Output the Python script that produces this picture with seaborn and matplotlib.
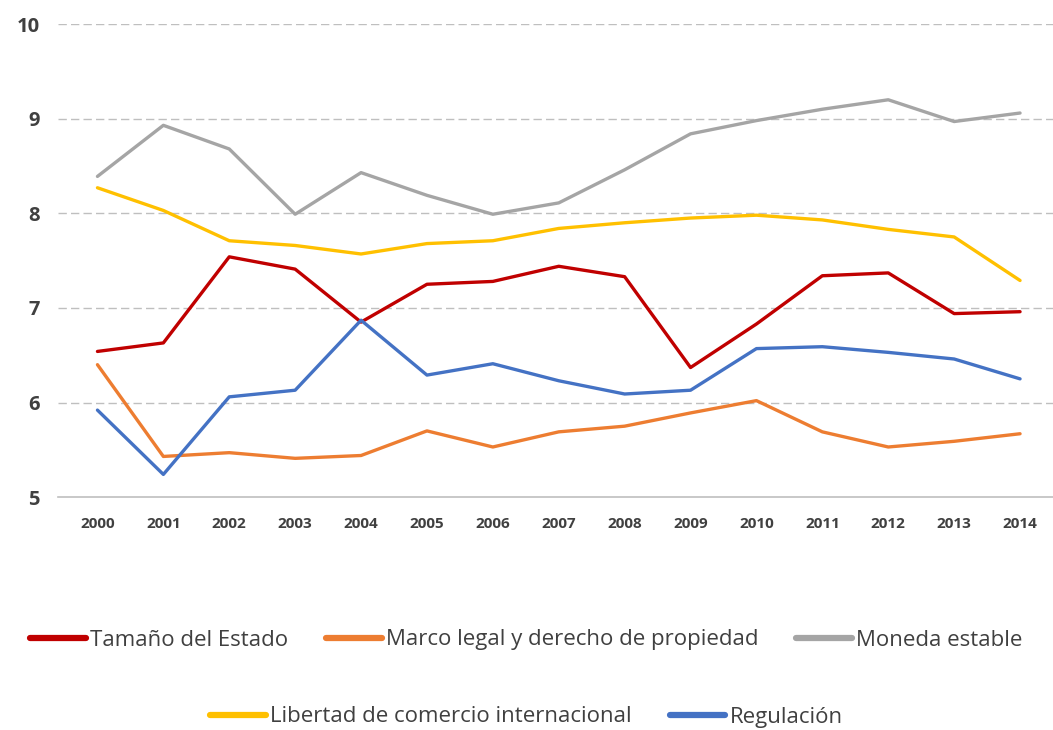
import matplotlib
matplotlib.use("Agg")
import matplotlib.pyplot as plt
import seaborn as sns
import pandas as pd
from matplotlib.lines import Line2D

years = list(range(2000, 2015))
series_names = ["Tamaño del Estado", "Marco legal y derecho de propiedad", "Moneda estable",
                "Libertad de comercio internacional", "Regulación"]
tamano = [6.54, 6.63, 7.54, 7.41, 6.85, 7.25, 7.28, 7.44, 7.33, 6.37, 6.83, 7.34, 7.37, 6.94, 6.96]
marco = [6.40, 5.43, 5.47, 5.41, 5.44, 5.70, 5.53, 5.69, 5.75, 5.89, 6.02, 5.69, 5.53, 5.59, 5.67]
moneda = [8.39, 8.93, 8.68, 7.99, 8.43, 8.19, 7.99, 8.11, 8.46, 8.84, 8.98, 9.10, 9.20, 8.97, 9.06]
libertad = [8.27, 8.03, 7.71, 7.66, 7.57, 7.68, 7.71, 7.84, 7.90, 7.95, 7.98, 7.93, 7.83, 7.75, 7.29]
regulacion = [5.92, 5.24, 6.06, 6.13, 6.87, 6.29, 6.41, 6.23, 6.09, 6.13, 6.57, 6.59, 6.53, 6.46, 6.25]
colors = ["#C00000", "#ED7D31", "#A5A5A5", "#FFC000", "#4472C4"]
y_ticks = [5, 6, 7, 8, 9, 10]

rows = []
for name, vals in zip(series_names, [tamano, marco, moneda, libertad, regulacion]):
    for yr, v in zip(years, vals):
        rows.append({"Año": yr, "Valor": v, "Serie": name})
df = pd.DataFrame(rows)

sns.set_theme(style="white")
plt.rcParams["font.family"] = ["Open Sans", "DejaVu Sans"]

fig = plt.figure(figsize=(10.53, 7.30), dpi=100)
ax = fig.add_axes([0.055, 0.319, 0.945, 0.648])

sns.lineplot(data=df, x="Año", y="Valor", hue="Serie", hue_order=series_names,
             palette=colors, linewidth=2.4, ax=ax, legend=False)

ax.set_ylim(5, 10)
ax.set_xlim(1999.4, 2014.5)
ax.set_yticks(y_ticks)
ax.set_xticks(years)
ax.set_xticklabels([str(y) for y in years])
ax.set_xlabel("")
ax.set_ylabel("")
for yv in y_ticks[1:]:
    ax.axhline(yv, color="#BFBFBF", linewidth=1.0, linestyle=(0, (6, 3)), zorder=0)
for s in ["top", "right", "left"]:
    ax.spines[s].set_visible(False)
ax.spines["bottom"].set_color("#BFBFBF")
ax.spines["bottom"].set_linewidth(1.2)
ax.tick_params(axis="y", length=0, pad=13, labelsize=14.5, labelcolor="#404040")
ax.tick_params(axis="x", length=0, pad=14, labelsize=11, labelcolor="#404040")
for lab in ax.get_yticklabels() + ax.get_xticklabels():
    lab.set_fontweight("bold")

handles = [Line2D([0], [0], color=c, linewidth=4.5, solid_capstyle="round") for c in colors]
leg_kw = dict(frameon=False, fontsize=16, handlelength=2.5, handletextpad=0.2,
              columnspacing=1.7, labelcolor="#404040", loc="center")
leg1 = fig.legend(handles[:3], series_names[:3], ncol=3,
                  bbox_to_anchor=(0.5, 1 - 640 / 730), **leg_kw)
leg2 = fig.legend(handles[3:], series_names[3:], ncol=2,
                  bbox_to_anchor=(0.5, 1 - 717 / 730), **leg_kw)

fig.savefig("out.png", dpi=100)
